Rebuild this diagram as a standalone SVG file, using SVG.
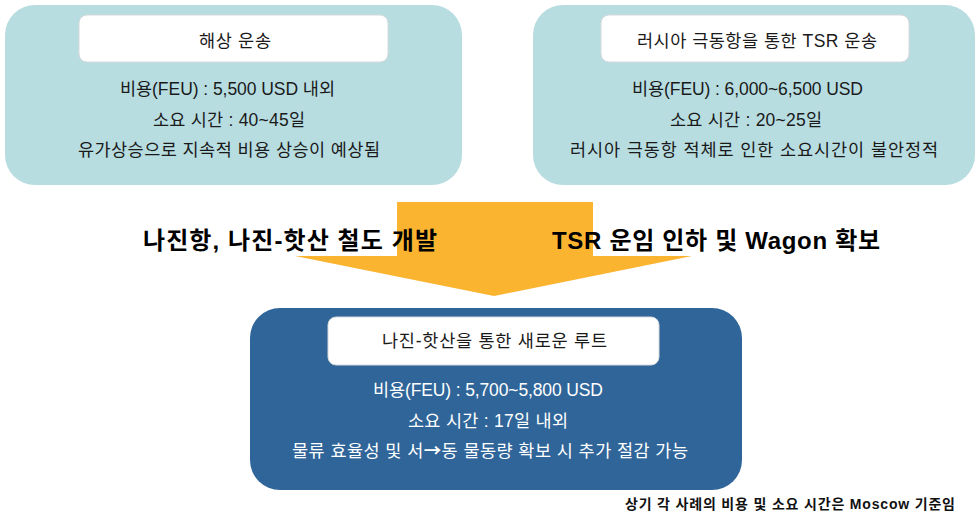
<svg xmlns="http://www.w3.org/2000/svg" width="979" height="519" viewBox="0 0 979 519">
<style>
.outerA{fill:#B8DDE1;}
.outerB{fill:#2F6599;}
.inner{fill:#FFFFFF;stroke:#D5D9DB;stroke-width:1;}
.t{font-family:"Liberation Sans","Noto Sans CJK KR",sans-serif;font-size:17.5px;fill:#1A1A1A;}
.tw{font-family:"Liberation Sans","Noto Sans CJK KR",sans-serif;font-size:17.5px;fill:#FFFFFF;}
.big{font-family:"Liberation Sans","Noto Sans CJK KR",sans-serif;font-size:24px;font-weight:bold;fill:#000000;}
.note{font-family:"Liberation Sans","Noto Sans CJK KR",sans-serif;font-size:14px;font-weight:bold;fill:#111111;}
.arw{font-family:"Noto Sans CJK KR",sans-serif;font-weight:bold;}
</style>
<rect width="979" height="519" fill="#FFFFFF"/>
<g id="connectors">
<path d="M397,202 L593,202 L593,256 L692,256 L494,296 L295,256 L397,256 Z" fill="#FBB430"/>
</g>
<g id="sea">
<rect class="outerA" x="5" y="5" width="457" height="180" rx="30"/>
<rect class="inner" x="79" y="15" width="309" height="47" rx="8"/>
<text class="t" x="199" y="47" textLength="72" lengthAdjust="spacing">해상 운송</text>
<text class="t" x="120" y="95" textLength="215" lengthAdjust="spacing">비용(FEU) : 5,500 USD 내외</text>
<text class="t" x="153" y="126" textLength="152" lengthAdjust="spacing">소요 시간 : 40~45일</text>
<text class="t" x="78" y="156" textLength="302" lengthAdjust="spacing">유가상승으로 지속적 비용 상승이 예상됨</text>
</g>
<g id="tsr">
<rect class="outerA" x="533" y="5" width="442" height="180" rx="30"/>
<rect class="inner" x="601" y="15" width="308" height="47" rx="8"/>
<text class="t" x="637" y="47" textLength="240" lengthAdjust="spacing">러시아 극동항을 통한 TSR 운송</text>
<text class="t" x="632" y="95" textLength="231" lengthAdjust="spacing">비용(FEU) : 6,000~6,500 USD</text>
<text class="t" x="670" y="126" textLength="152" lengthAdjust="spacing">소요 시간 : 20~25일</text>
<text class="t" x="570" y="156" textLength="368" lengthAdjust="spacing">러시아 극동항 적체로 인한 소요시간이 불안정적</text>
</g>
<g id="label-left">
<text class="big" x="143" y="249" textLength="294" lengthAdjust="spacing">나진항, 나진-핫산 철도 개발</text>
</g>
<g id="label-right">
<text class="big" x="552" y="249" textLength="328" lengthAdjust="spacing">TSR 운임 인하 및 Wagon 확보</text>
</g>
<g id="new-route">
<rect class="outerB" x="250" y="308" width="492" height="182" rx="30"/>
<rect class="inner" x="328" y="317" width="331" height="48" rx="8"/>
<text class="t" x="382" y="347" textLength="225" lengthAdjust="spacing">나진-핫산을 통한 새로운 루트</text>
<text class="tw" x="373" y="396" textLength="230" lengthAdjust="spacing">비용(FEU) : 5,700~5,800 USD</text>
<text class="tw" x="408" y="427" textLength="160" lengthAdjust="spacing">소요 시간 : 17일 내외</text>
<text class="tw" x="292" y="457" textLength="396" lengthAdjust="spacing">물류 효율성 및 서<tspan class="arw">→</tspan>동 물동량 확보 시 추가 절감 가능</text>
</g>
<g id="footnote">
<text class="note" x="625" y="509" textLength="330" lengthAdjust="spacing">상기 각 사례의 비용 및 소요 시간은 Moscow 기준임</text>
</g>
</svg>
